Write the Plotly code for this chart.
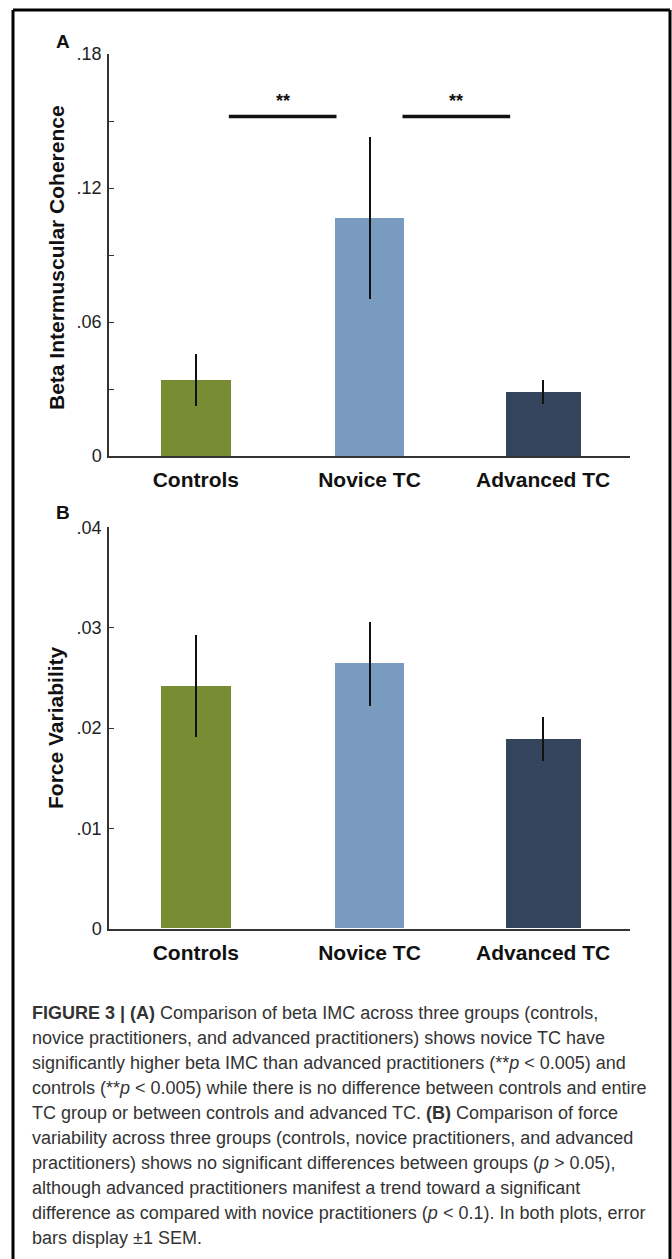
import plotly.graph_objects as go

# Groups and colours
groups = ["Controls", "Novice TC", "Advanced TC"]
group_colors = ["#788c34", "#7a9bc0", "#33445c"]

# Panel A: beta intermuscular coherence (mean, SEM)
beta_mean = [0.034, 0.1065, 0.0287]
beta_sem = [0.0117, 0.0362, 0.0053]

# Panel B: force variability (mean, SEM)
force_mean = [0.0242, 0.0264, 0.0189]
force_sem = [0.0051, 0.0042, 0.0022]

# Significance brackets in panel A: (left group, right group), height, label
sig_pairs = [(0, 1), (1, 2)]
sig_height = 0.152
sig_label_height = 0.159
sig_label = "**"

# Tick labels
beta_ticks = [0, 0.03, 0.06, 0.09, 0.12, 0.15, 0.18]
beta_ticktext = ["0", "", ".06", "", ".12", "", ".18"]
force_ticks = [0, 0.01, 0.02, 0.03, 0.04]
force_ticktext = ["0", ".01", ".02", ".03", ".04"]

caption_lines = [
    "<b>FIGURE 3 | (A)</b> Comparison of beta IMC across three groups (controls,",
    "novice practitioners, and advanced practitioners) shows novice TC have",
    "significantly higher beta IMC than advanced practitioners (**<i>p</i> &lt; 0.005) and",
    "controls (**<i>p</i> &lt; 0.005) while there is no difference between controls and entire",
    "TC group or between controls and advanced TC. <b>(B)</b> Comparison of force",
    "variability across three groups (controls, novice practitioners, and advanced",
    "practitioners) shows no significant differences between groups (<i>p</i> &gt; 0.05),",
    "although advanced practitioners manifest a trend toward a significant",
    "difference as compared with novice practitioners (<i>p</i> &lt; 0.1). In both plots, error",
    "bars display \u00b11 SEM.",
]

W, H = 672, 1259
FONT = "Liberation Sans, Arial, Helvetica, sans-serif"
AXIS_COLOR = "#333333"
bar_widths = [0.4, 0.4, 0.43]


def px_x(p):
    return p / W


def px_y(p):
    return 1 - p / H


fig = go.Figure()

err_style = dict(type="data", width=0, thickness=2, color="#111111")

fig.add_trace(go.Bar(
    x=groups, y=beta_mean, width=bar_widths,
    marker=dict(color=group_colors, line=dict(width=0)),
    error_y=dict(array=beta_sem, **err_style),
    xaxis="x", yaxis="y", showlegend=False, hoverinfo="skip",
))
fig.add_trace(go.Bar(
    x=groups, y=force_mean, width=bar_widths,
    marker=dict(color=group_colors, line=dict(width=0)),
    error_y=dict(array=force_sem, **err_style),
    xaxis="x2", yaxis="y2", showlegend=False, hoverinfo="skip",
))

x_domain = [px_x(109), px_x(630)]
common_x = dict(
    domain=x_domain, range=[-0.5, 2.5], showline=True, linecolor=AXIS_COLOR,
    linewidth=1.5, ticks="", showgrid=False, zeroline=False, fixedrange=True,
    automargin=False,
    tickfont=dict(family=FONT, size=21, color="#111111", weight="bold"),
    ticklabelstandoff=4,
)
common_y = dict(
    showline=True, linecolor=AXIS_COLOR, linewidth=1.5, ticks="inside",
    ticklen=5, tickcolor=AXIS_COLOR, tickwidth=1.2, showgrid=False,
    zeroline=False, fixedrange=True, automargin=False,
    tickfont=dict(family=FONT, size=18, color="#222222"),
    ticklabelstandoff=2,
)

fig.update_layout(
    template="none",
    width=W, height=H, margin=dict(l=0, r=0, t=0, b=0, pad=0),
    autosize=False,
    paper_bgcolor="white", plot_bgcolor="white",
    xaxis=dict(anchor="y", **common_x),
    yaxis=dict(anchor="x", domain=[px_y(456), px_y(54)], range=[0, 0.18],
               tickvals=beta_ticks, ticktext=beta_ticktext, **common_y),
    xaxis2=dict(anchor="y2", **common_x),
    yaxis2=dict(anchor="x2", domain=[px_y(928.7), px_y(527.3)], range=[0, 0.04],
                tickvals=force_ticks, ticktext=force_ticktext, **common_y),
    bargap=0,
)

# Significance brackets and stars
half_len = 0.31
for a, b in sig_pairs:
    mid = (a + b) / 2
    fig.add_shape(type="line", xref="x", yref="y",
                  x0=mid - half_len, x1=mid + half_len, y0=sig_height, y1=sig_height,
                  line=dict(color="#111111", width=3.5))
    fig.add_annotation(xref="x", yref="y", x=mid, y=sig_label_height, text=sig_label,
                       xanchor="center", yanchor="middle", showarrow=False,
                       font=dict(family=FONT, size=18, color="#111111", weight="bold"))

# Axis titles
fig.add_annotation(xref="paper", yref="paper", x=px_x(56), y=px_y(258),
                   xanchor="center", yanchor="middle",
                   text="Beta Intermuscular Coherence", textangle=-90, showarrow=False,
                   font=dict(family=FONT, size=21, color="#111111", weight="bold"))
fig.add_annotation(xref="paper", yref="paper", x=px_x(55), y=px_y(728),
                   xanchor="center", yanchor="middle",
                   text="Force Variability", textangle=-90, showarrow=False,
                   font=dict(family=FONT, size=21, color="#111111", weight="bold"))

# Panel letters
for letter, ypix in [("A", 41), ("B", 512)]:
    fig.add_annotation(xref="paper", yref="paper", x=px_x(63), y=px_y(ypix),
                       xanchor="center", yanchor="middle",
                       text=letter, showarrow=False,
                       font=dict(family=FONT, size=19, color="#111111", weight="bold"))

# Caption
for i, line in enumerate(caption_lines):
    fig.add_annotation(xref="paper", yref="paper", x=px_x(30), y=px_y(1013 + 25 * i),
                       xanchor="left", yanchor="middle", align="left",
                       text=line, showarrow=False,
                       font=dict(family=FONT, size=18, color="#333333"))

# Frame around figure
frame = dict(color="#000000", width=3)
fig.add_shape(type="line", xref="paper", yref="paper", x0=px_x(13), x1=px_x(13),
              y0=px_y(10), y1=0, line=frame)
fig.add_shape(type="line", xref="paper", yref="paper", x0=px_x(13), x1=px_x(670),
              y0=px_y(10), y1=px_y(10), line=frame)
fig.add_shape(type="line", xref="paper", yref="paper", x0=px_x(670), x1=px_x(670),
              y0=px_y(10), y1=0, line=frame)

fig.write_html("out.html", config={"displayModeBar": False})
